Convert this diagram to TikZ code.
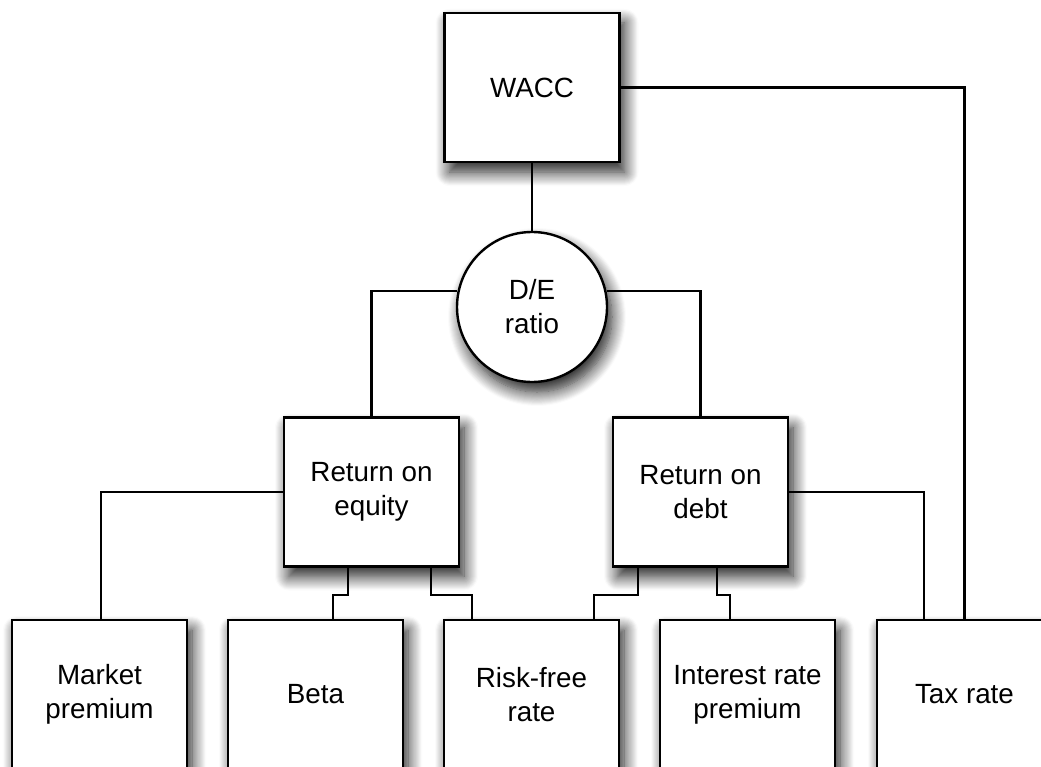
\documentclass[tikz,border=0pt]{standalone}
\usepackage{fontspec}
\setmainfont{Liberation Sans}
\usetikzlibrary{shadows.blur}
\tikzset{
	box/.style={draw, line width=2.4pt, fill=white, minimum width=175pt, minimum height=149pt, align=center, font=\fontsize{27.8}{34}\selectfont, blur shadow={shadow xshift=5pt, shadow yshift=-10pt, shadow blur radius=14pt, shadow blur steps=14, shadow opacity=90}},
	ball/.style={box, circle, minimum width=150pt, minimum height=150pt, inner sep=0pt},
	link/.style={line width=2.4pt}
}

\begin{document}
\begin{tikzpicture}[x=1pt, y=-1pt]
		%%%%% START %%%%%
		\useasboundingbox (0, 0) rectangle (1041, 767);
		
		\node[box] (wacc) at (532, 87.5) {WACC};
		\node[ball] (de) at (532, 307) {D/E\\ratio};
		
		\node[box] (roe) at (371.5, 492) {Return on\\equity};
		\node[box] (rod) at (700.5, 492) {Return on\\debt};
		
		\node[box] (mkt) at (99.5, 694.5) {Market\\premium};
		\node[box] (beta) at (315.5, 694.5) {Beta};
		\node[box] (rf) at (531.5, 694.5) {Risk-free\\rate};
		\node[box] (irp) at (747.5, 694.5) {Interest rate\\premium};
		\node[box] (tax) at (964.5, 694.5) {Tax rate};
		
		\draw[link] (wacc.south) -- (de.north);
		\draw[link] (wacc.east) -| (tax.north);
		\draw[link] (de.168) -| (roe.north);
		\draw[link] (de.12) -| (rod.north);
		
		\draw[link] (roe.west) -| ([xshift=1.5pt]mkt.north);
		\draw[link] ([xshift=-23.5pt]roe.south) -- ++(0, 27) -| ([xshift=17.5pt]beta.north);
		\draw[link] ([xshift=59.5pt]roe.south) -- ++(0, 27) -| ([xshift=-59.5pt]rf.north);
		
		\draw[link] ([xshift=-62.5pt]rod.south) -- ++(0, 27) -| ([xshift=62.5pt]rf.north);
		\draw[link] ([xshift=16.5pt]rod.south) -- ++(0, 27) -| ([xshift=-17.5pt]irp.north);
		\draw[link] (rod.east) -| ([xshift=-40.5pt]tax.north);
		%%%%% END %%%%%
\end{tikzpicture}
\end{document}
